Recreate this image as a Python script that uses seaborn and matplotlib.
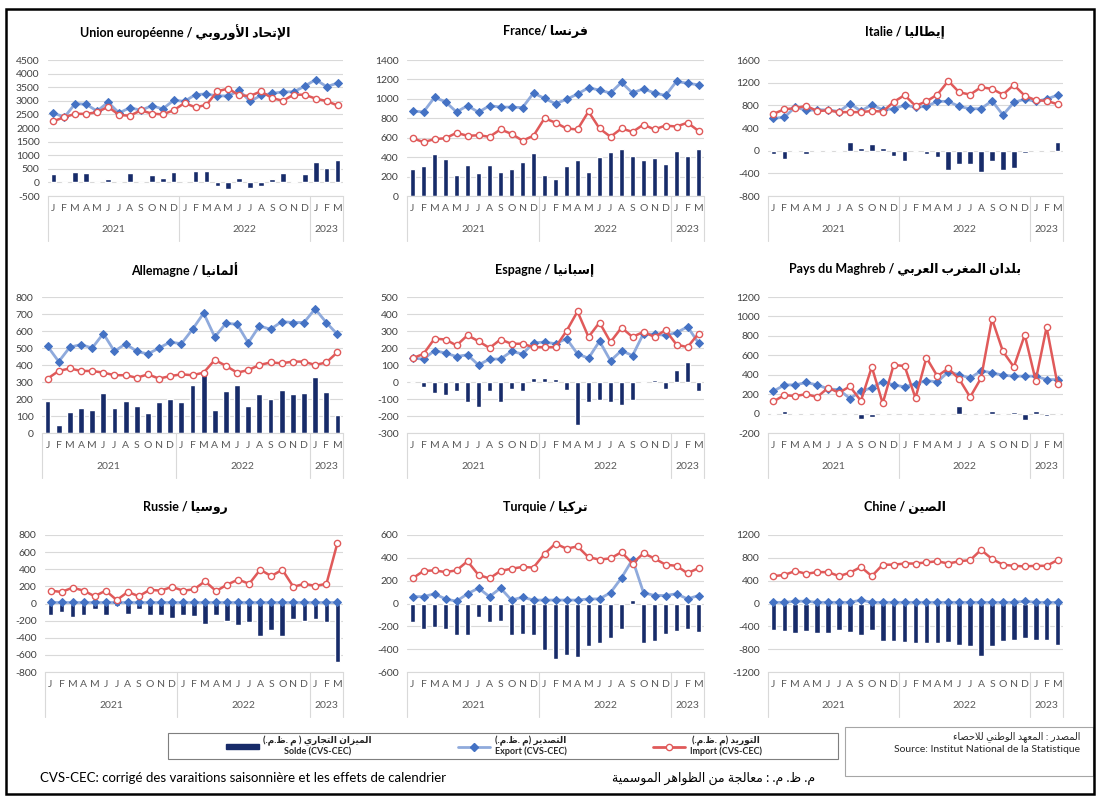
import numpy as np
import pandas as pd
import matplotlib
matplotlib.use("Agg")
import matplotlib.pyplot as plt
import matplotlib.transforms as mtransforms
from matplotlib.patches import Rectangle, Patch
from matplotlib.lines import Line2D
import seaborn as sns

# ---- data (MDT, CVS-CEC), Jan 2021 .. Mar 2023 ----
months = ["J", "F", "M", "A", "M", "J", "J", "A", "S", "O", "N", "D"] * 2 + ["J", "F", "M"]
years = ["2021", "2022", "2023"]

ue_export = [2550, 2400, 2900, 2870, 2620, 2950, 2550, 2750, 2650, 2820, 2700, 3020,
             2980, 3230, 3250, 3180, 3180, 3380, 2980, 3200, 3270, 3330, 3330, 3540, 3780, 3520, 3650]
ue_import = [2250, 2400, 2520, 2520, 2580, 2780, 2480, 2450, 2650, 2530, 2500, 2650,
             2920, 2760, 2850, 3350, 3450, 3200, 3180, 3350, 3100, 3000, 3230, 3220, 3080, 2990, 2830]
ue_solde = [300, -40, 380, 350, 0, 130, 0, 350, 0, 270, 180, 390,
            0, 420, 420, -130, -230, 170, -190, -120, 140, 350, 50, 310, 740, 540, 810]

fr_export = [875, 865, 1015, 970, 865, 930, 862, 930, 915, 915, 910, 1060,
             1005, 950, 995, 1050, 1115, 1090, 1060, 1170, 1060, 1105, 1060, 1035, 1180, 1160, 1145]
fr_import = [595, 555, 585, 595, 650, 620, 625, 610, 685, 640, 570, 620,
             800, 755, 695, 685, 870, 695, 610, 695, 660, 735, 685, 725, 715, 755, 670]
fr_solde = [280, 305, 435, 380, 215, 315, 240, 315, 250, 280, 345, 445,
            215, 180, 305, 370, 250, 400, 455, 480, 410, 370, 390, 325, 465, 410, 480]

it_export = [570, 590, 770, 710, 720, 720, 690, 830, 700, 810, 720, 740,
             800, 770, 780, 870, 870, 780, 740, 740, 880, 630, 850, 910, 870, 910, 980]
it_import = [650, 730, 750, 790, 700, 710, 680, 680, 680, 700, 690, 860,
             980, 790, 870, 990, 1230, 1030, 990, 1120, 1090, 990, 1160, 970, 890, 880, 820]
it_solde = [-60, -140, 20, -60, 20, 20, 20, 150, 40, 120, 40, -90,
            -180, 0, -60, -110, -350, -240, -240, -370, -190, -350, -310, -50, 0, 20, 160]

de_export = [510, 420, 505, 520, 500, 585, 480, 525, 480, 465, 500, 535,
             525, 610, 705, 565, 645, 640, 530, 630, 610, 655, 650, 650, 730, 650, 580]
de_import = [320, 365, 380, 365, 365, 355, 340, 340, 325, 345, 320, 335,
             345, 340, 355, 430, 395, 355, 370, 400, 415, 410, 420, 420, 400, 415, 475]
de_solde = [190, 50, 125, 150, 135, 235, 145, 190, 160, 120, 180, 200,
            180, 280, 345, 135, 245, 280, 160, 230, 200, 255, 230, 235, 330, 240, 105]

es_export = [140, 135, 185, 170, 150, 160, 100, 135, 135, 180, 165, 230,
             235, 225, 255, 165, 140, 240, 125, 185, 155, 285, 280, 275, 290, 325, 230]
es_import = [140, 165, 255, 250, 215, 275, 240, 200, 250, 225, 225, 205,
             205, 205, 300, 415, 265, 350, 235, 320, 265, 295, 265, 305, 220, 205, 285]
es_solde = [0, -30, -65, -75, -55, -115, -145, -55, -115, -40, -55, 25,
            25, 15, -45, -250, -120, -105, -115, -135, -105, -5, 10, -40, 70, 120, -55]

mg_export = [230, 295, 295, 320, 295, 255, 245, 155, 230, 265, 330, 295,
             275, 305, 340, 325, 430, 400, 365, 440, 420, 395, 385, 385, 385, 350, 350]
mg_import = [125, 190, 180, 200, 170, 265, 215, 280, 130, 480, 105, 500,
             490, 160, 575, 385, 465, 355, 170, 365, 975, 640, 480, 810, 340, 890, 300]
mg_solde = [10, 30, 10, 10, -10, -15, 0, -15, -55, -35, 10, 0,
            -10, 10, 10, 10, 0, 80, 10, 10, 30, 0, 20, -70, 30, -25, 0]

ru_export = [15, 15, 15, 15, 15, 15, 15, 15, 15, 15, 15, 15,
             15, 15, 15, 15, 15, 15, 15, 15, 15, 15, 15, 15, 15, 15, 15]
ru_import = [150, 135, 185, 150, 85, 150, 40, 135, 85, 160, 150, 195,
             150, 165, 260, 145, 220, 280, 230, 395, 320, 395, 195, 230, 205, 230, 710]
ru_solde = [-130, -105, -155, -130, -65, -130, -30, -120, -65, -140, -130, -165,
            -130, -150, -245, -130, -205, -255, -215, -380, -305, -380, -180, -205, -180, -215, -685]

tr_export = [60, 60, 85, 40, 20, 85, 135, 60, 135, 30, 55, 30,
             30, 30, 30, 30, 40, 40, 95, 225, 385, 95, 70, 70, 85, 40, 70]
tr_import = [220, 285, 290, 275, 290, 370, 250, 220, 285, 305, 320, 315,
             435, 525, 480, 500, 405, 385, 395, 450, 350, 440, 395, 340, 330, 265, 310]
tr_solde = [-165, -225, -205, -225, -280, -280, -120, -165, -155, -280, -270, -280,
            -410, -485, -450, -465, -370, -345, -300, -225, 30, -345, -330, -270, -240, -225, -250]

cn_export = [20, 20, 40, 40, 20, 20, 20, 20, 60, 20, 20, 20,
             20, 20, 20, 20, 20, 20, 20, 20, 20, 20, 20, 40, 20, 20, 20]
cn_import = [480, 500, 570, 520, 550, 550, 480, 540, 640, 480, 680, 680,
             700, 700, 720, 740, 700, 740, 760, 940, 780, 680, 660, 650, 660, 660, 760]
cn_solde = [-460, -480, -520, -480, -520, -520, -470, -500, -560, -460, -650, -660,
            -670, -690, -700, -700, -670, -720, -740, -920, -740, -660, -640, -610, -640, -640, -720]

# ---- minimal Arabic shaping (matplotlib has no RTL/joining support) ----
AR = {
    "\u0621": (0xFE80, 1), "\u0622": (0xFE81, 2), "\u0623": (0xFE83, 2), "\u0624": (0xFE85, 2),
    "\u0625": (0xFE87, 2), "\u0626": (0xFE89, 4), "\u0627": (0xFE8D, 2), "\u0628": (0xFE8F, 4),
    "\u0629": (0xFE93, 2), "\u062A": (0xFE95, 4), "\u062B": (0xFE99, 4), "\u062C": (0xFE9D, 4),
    "\u062D": (0xFEA1, 4), "\u062E": (0xFEA5, 4), "\u062F": (0xFEA9, 2), "\u0630": (0xFEAB, 2),
    "\u0631": (0xFEAD, 2), "\u0632": (0xFEAF, 2), "\u0633": (0xFEB1, 4), "\u0634": (0xFEB5, 4),
    "\u0635": (0xFEB9, 4), "\u0636": (0xFEBD, 4), "\u0637": (0xFEC1, 4), "\u0638": (0xFEC5, 4),
    "\u0639": (0xFEC9, 4), "\u063A": (0xFECD, 4), "\u0641": (0xFED1, 4), "\u0642": (0xFED5, 4),
    "\u0643": (0xFED9, 4), "\u0644": (0xFEDD, 4), "\u0645": (0xFEE1, 4), "\u0646": (0xFEE5, 4),
    "\u0647": (0xFEE9, 4), "\u0648": (0xFEED, 2), "\u0649": (0xFEEF, 2), "\u064A": (0xFEF1, 4),
}
LAM_ALEF = {"\u0622": 0xFEF5, "\u0623": 0xFEF7, "\u0625": 0xFEF9, "\u0627": 0xFEFB}


def ar(text):
    out = []
    i, n = 0, len(text)
    while i < n:
        c = text[i]
        if c not in AR:
            out.append(c)
            i += 1
            continue
        prev = text[i - 1] if i > 0 else ""
        join_prev = prev in AR and AR[prev][1] == 4
        if c == "\u0644" and i + 1 < n and text[i + 1] in LAM_ALEF:
            out.append(chr(LAM_ALEF[text[i + 1]] + (1 if join_prev else 0)))
            i += 2
            continue
        nxt = text[i + 1] if i + 1 < n else ""
        start, k = AR[c]
        join_next = k == 4 and nxt in AR and AR[nxt][1] > 1
        if k == 1:
            f = 0
        elif join_prev and join_next:
            f = 3
        elif join_prev:
            f = 1
        elif join_next:
            f = 2
        else:
            f = 0
        out.append(chr(start + f))
        i += 1
    return "".join(out)[::-1].translate(str.maketrans("()", ")("))


# ---- style ----
W, H = 1098, 798
NAVY = "#172B69"
BLUE = "#4472C4"
BLUE_LINE = "#8FAADC"
RED = "#E05A5A"
GRID = "#D9D9D9"
TXT = "#404040"

sns.set_theme(style="white")
plt.rcParams["font.family"] = ["Lato", "DejaVu Sans"]

fig = plt.figure(figsize=(W / 100, H / 100), dpi=100)


def px_rect(l, t, r, b):
    return [l / W, 1 - b / H, (r - l) / W, (b - t) / H]


def draw_panel(rect, title_latin, title_ar, sep, exp, imp, solde, ylo, yhi, step, title_xy):
    ax = fig.add_axes(px_rect(*rect))
    x = np.arange(len(months))
    df = pd.DataFrame({"x": x, "Solde": solde, "Export": exp, "Import": imp})

    sns.barplot(data=df, x="x", y="Solde", color=NAVY, saturation=1, width=0.52,
                ax=ax, zorder=2)
    sns.lineplot(data=df, x="x", y="Export", color=BLUE_LINE, lw=2, marker="D",
                 markersize=4.2, markerfacecolor=BLUE, markeredgecolor=BLUE,
                 ax=ax, zorder=3, errorbar=None)
    sns.lineplot(data=df, x="x", y="Import", color=RED, lw=1.8, marker="o",
                 markersize=4.5, markerfacecolor="white", markeredgecolor=RED,
                 markeredgewidth=1, ax=ax, zorder=4, errorbar=None)

    ax.set_xlim(-0.5, len(months) - 0.5)
    ax.set_ylim(ylo, yhi)
    ax.set_yticks(np.arange(ylo, yhi + 1, step))
    ax.set_yticklabels([f"{v:d}" for v in np.arange(ylo, yhi + 1, step)])
    ax.set_xticks(x)
    ax.set_xticklabels(months)
    ax.tick_params(axis="y", length=0, labelsize=7.5, labelcolor=TXT, pad=6)
    ax.tick_params(axis="x", length=0, labelsize=7.5, labelcolor="#595959", pad=6)
    ax.set_xlabel("")
    ax.set_ylabel("")
    ax.yaxis.grid(True, color=GRID, lw=0.8)
    ax.set_axisbelow(True)
    for s in ["top", "left", "right"]:
        ax.spines[s].set_visible(False)
    ax.spines["bottom"].set_color(GRID)
    ax.spines["bottom"].set_linewidth(0.8)

    trans = mtransforms.blended_transform_factory(ax.transData, ax.transAxes)
    for xv in [-0.5, 11.5, 23.5, 26.5]:
        ax.plot([xv, xv], [0, -0.33], transform=trans, color=GRID, lw=0.8, clip_on=False)
    for xc, yr in zip([5.5, 17.5, 25], years):
        ax.text(xc, -0.245, yr, transform=trans, ha="center", va="center",
                fontsize=7.5, color="#595959")

    fig.text(title_xy[0] / W, 1 - title_xy[1] / H, title_latin + sep + ar(title_ar),
             ha="center", va="center", fontsize=9, fontweight="bold", color="black")
    return ax


cols = [(48, 343), (407, 704), (768, 1063)]
rows = [(60, 196), (297, 433), (535, 672)]
tcx = [185, 545, 905]
tcy = [32, 270, 508]

panels = [
    ("Union européenne", "الإتحاد الأوروبي", " / ", ue_export, ue_import, ue_solde, -500, 4500, 500),
    ("France", "فرنسا", "/ ", fr_export, fr_import, fr_solde, 0, 1400, 200),
    ("Italie", "إيطاليا", " / ", it_export, it_import, it_solde, -800, 1600, 400),
    ("Allemagne", "ألمانيا", " / ", de_export, de_import, de_solde, 0, 800, 100),
    ("Espagne", "إسبانيا", " / ", es_export, es_import, es_solde, -300, 500, 100),
    ("Pays du Maghreb", "بلدان المغرب العربي", " / ", mg_export, mg_import, mg_solde, -200, 1200, 200),
    ("Russie", "روسيا", " / ", ru_export, ru_import, ru_solde, -800, 800, 200),
    ("Turquie", "تركيا", " / ", tr_export, tr_import, tr_solde, -600, 600, 200),
    ("Chine", "الصين", " / ", cn_export, cn_import, cn_solde, -1200, 1200, 400),
]

for k, (lat, arab, sep, e, im, so, lo, hi, st) in enumerate(panels):
    r, c = divmod(k, 3)
    l, rr = cols[c]
    if c == 0 and r == 1:
        l = 42
    if c == 0 and r == 2:
        l = 45
    t, b = rows[r]
    draw_panel((l, t, rr, b), lat, arab, sep, e, im, so, lo, hi, st, (tcx[c], tcy[r]))

# ---- legend ----
handles = [
    Patch(facecolor=NAVY, edgecolor=NAVY),
    Line2D([], [], color=BLUE_LINE, lw=2, marker="D", markersize=4,
           markerfacecolor=BLUE, markeredgecolor=BLUE),
    Line2D([], [], color=RED, lw=2, marker="o", markersize=4.5,
           markerfacecolor="white", markeredgecolor=RED),
]
labels = [
    ar("الميزان التجاري ( م .ظ.م.)") + "\nSolde (CVS-CEC)",
    ar("التصدير (م .ظ.م.)") + "\nExport (CVS-CEC)",
    ar("التوريد (م .ظ.م.)") + "\nImport (CVS-CEC)",
]
fig.patches.append(Rectangle((168 / W, 1 - 759 / H), 670 / W, 26 / H,
                             transform=fig.transFigure, fill=False,
                             edgecolor="#7F7F7F", lw=0.8))
leg = fig.legend(handles, labels, ncol=3, loc="center",
                 bbox_to_anchor=(494 / W, 1 - 746 / H),
                 frameon=False, fontsize=6.5, handlelength=3.6, handleheight=0.55,
                 handletextpad=0.5, columnspacing=9.5, borderpad=0, labelspacing=0,
                 borderaxespad=0)
for t in leg.get_texts():
    t.set_multialignment("center")
    t.set_fontweight("bold")
    t.set_linespacing(1.1)

# ---- source box ----
fig.patches.append(Rectangle((845 / W, 1 - 776 / H), 248 / W, 49 / H,
                             transform=fig.transFigure, fill=False,
                             edgecolor="#A6A6A6", lw=0.8))
fig.text(1080 / W, 1 - 737 / H, ar("المصدر : المعهد الوطني للاحصاء"), ha="right",
         va="center", fontsize=7, color="#262626")
fig.text(1080 / W, 1 - 750 / H, "Source: Institut National de la Statistique", ha="right",
         va="center", fontsize=7.5, color="#262626")

# ---- footnotes ----
fig.text(40 / W, 1 - 778 / H, "CVS-CEC: corrigé des varaitions saisonnière et les effets de calendrier",
         ha="left", va="center", fontsize=9.5, color="black")
fig.text(815 / W, 1 - 778 / H, ar("م. ظ. م. : معالجة من الظواهر الموسمية"),
         ha="right", va="center", fontsize=9, color="black")

# outer frame
fig.patches.append(Rectangle((6 / W, 1 - 794 / H), 1088 / W, 785 / H,
                             transform=fig.transFigure, fill=False,
                             edgecolor="black", lw=1.8))

fig.savefig("out.png", dpi=100, facecolor="white")
